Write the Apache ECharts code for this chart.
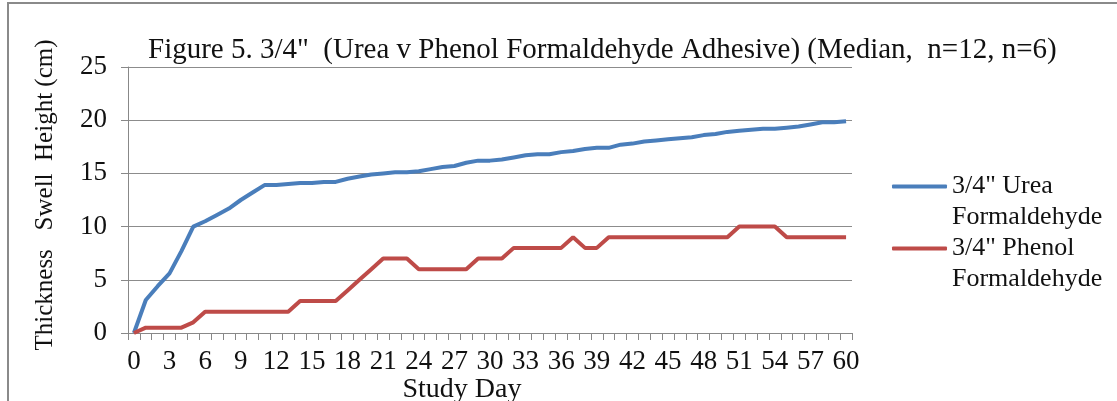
<!DOCTYPE html>
<html><head><meta charset="utf-8">
<script src="https://cdn.jsdelivr.net/npm/echarts@6/dist/echarts.min.js"></script>
<style>html,body{margin:0;padding:0;background:#fff}#c{width:1117px;height:401px}</style>
</head><body><div id="c"></div>
<script>
const days = ['0','1','2','3','4','5','6','7','8','9','10','11','12','13','14','15','16','17','18','19','20',
  '21','22','23','24','25','26','27','28','29','30','31','32','33','34','35','36','37','38','39','40',
  '41','42','43','44','45','46','47','48','49','50','51','52','53','54','55','56','57','58','59','60'];
const ureaF = [0,3.1,4.4,5.6,7.7,10.0,10.5,11.1,11.7,12.5,13.2,13.9,13.9,14.0,14.1,14.1,14.2,14.2,14.5,14.7,14.9,
  15.0,15.1,15.1,15.2,15.4,15.6,15.7,16.0,16.2,16.2,16.3,16.5,16.7,16.8,16.8,17.0,17.1,17.3,17.4,17.4,
  17.7,17.8,18.0,18.1,18.2,18.3,18.4,18.6,18.7,18.9,19.0,19.1,19.2,19.2,19.3,19.4,19.6,19.8,19.8,19.9];
const phenolF = [0,0.5,0.5,0.5,0.5,1,2,2,2,2,2,2,2,2,3,3,3,3,4,5,6,
  7,7,7,6,6,6,6,6,7,7,7,8,8,8,8,8,9,8,8,9,
  9,9,9,9,9,9,9,9,9,9,10,10,10,10,9,9,9,9,9,9];
const seriesNames = ['3/4" Urea Formaldehyde', '3/4" Phenol Formaldehyde'];
const legendText = {
  '3/4" Urea Formaldehyde': ' \n3/4" Urea\nFormaldehyde',
  '3/4" Phenol Formaldehyde': ' \n3/4" Phenol\nFormaldehyde'
};
const titleText = 'Figure 5. 3/4"  (Urea v Phenol Formaldehyde Adhesive) (Median,  n=12, n=6)';
const yAxisTitle = 'Thickness   Swell  Height (cm)';
const xAxisTitle = 'Study Day';
const colors = ['#4a7ebb', '#be4b48'];

const F = '"Liberation Serif", "Times New Roman", serif';
const chart = echarts.init(document.getElementById('c'), null, {renderer: 'canvas'});
chart.setOption({
  animation: false,
  backgroundColor: '#fff',
  title: {
    text: titleText, left: 148, top: 36, padding: 0,
    textStyle: {fontFamily: F, fontSize: 29, fontWeight: 'normal', color: '#111'}
  },
  grid: {left: 128, top: 67, width: 724, height: 266, containLabel: false},
  legend: {
    orient: 'vertical', left: 892, top: 140, padding: 0, itemGap: -31,
    itemWidth: 55, itemHeight: 4, icon: 'roundRect',
    data: seriesNames,
    formatter: n => legendText[n],
    textStyle: {fontFamily: F, fontSize: 26, lineHeight: 31, color: '#111'}
  },
  xAxis: {
    type: 'category', data: days, boundaryGap: true,
    axisLine: {lineStyle: {color: '#888', width: 1}},
    axisTick: {show: true, interval: 0, length: 7, lineStyle: {color: '#888'}},
    axisLabel: {interval: 2, margin: 15, fontFamily: F, fontSize: 27, color: '#111'},
    splitLine: {show: false}
  },
  yAxis: {
    type: 'value', min: 0, max: 25, interval: 5,
    axisLine: {show: true, lineStyle: {color: '#888', width: 1}},
    axisTick: {show: true, length: 7, lineStyle: {color: '#888'}},
    axisLabel: {margin: 21, fontFamily: F, fontSize: 27, color: '#111'},
    splitLine: {show: true, lineStyle: {color: '#8c8c8c', width: 1}}
  },
  graphic: [
    {type: 'rect', shape: {x: 8, y: 3, width: 1200, height: 500}, silent: true,
     style: {fill: 'none', stroke: '#8a8a8a', lineWidth: 2}},
    {type: 'text', x: 45, y: 195, rotation: Math.PI / 2,
     style: {text: yAxisTitle, fontFamily: F, fontSize: 25, fill: '#111', textAlign: 'center', textVerticalAlign: 'middle'}},
    {type: 'text', x: 462, y: 390,
     style: {text: xAxisTitle, fontFamily: F, fontSize: 28, fill: '#111', textAlign: 'center', textVerticalAlign: 'middle'}}
  ],
  series: [
    {name: seriesNames[0], type: 'line', data: ureaF, showSymbol: false, symbol: 'none',
     lineStyle: {color: colors[0], width: 4}, itemStyle: {color: colors[0]}},
    {name: seriesNames[1], type: 'line', data: phenolF, showSymbol: false, symbol: 'none',
     lineStyle: {color: colors[1], width: 4}, itemStyle: {color: colors[1]}}
  ]
});
</script>
</body></html>
